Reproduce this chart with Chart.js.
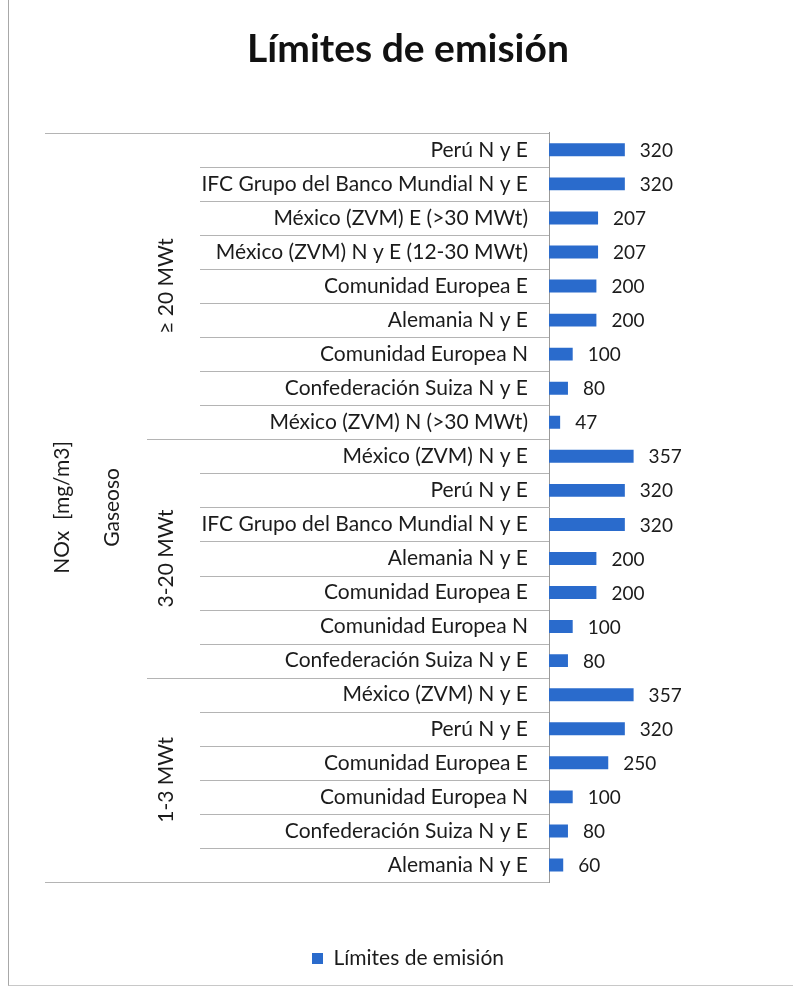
<!DOCTYPE html>
<html>
<head>
<meta charset="utf-8">
<script src="https://cdn.jsdelivr.net/npm/chart.js@4"></script>
<style>
  body { margin: 0; background: #fff; }
  #wrap { position: relative; width: 793px; height: 989px; }
  #frame { position: absolute; left: 8px; top: 0; width: 790px; height: 985px;
    border-left: 1px solid #a8a8a8; border-bottom: 1px solid #c8c8c8; }
  canvas { position: absolute; left: 0; top: 0; }
</style>
</head>
<body>
<div id="wrap">
  <div id="frame"></div>
  <canvas id="myChart" width="793" height="989"></canvas>
</div>
<script>
const labels = [
  "Perú N y E",
  "IFC Grupo del Banco Mundial N y E",
  "México (ZVM) E (>30 MWt)",
  "México (ZVM) N y E (12-30 MWt)",
  "Comunidad Europea E",
  "Alemania N y E",
  "Comunidad Europea N",
  "Confederación Suiza N y E",
  "México (ZVM) N (>30 MWt)",
  "México (ZVM) N y E",
  "Perú N y E",
  "IFC Grupo del Banco Mundial N y E",
  "Alemania N y E",
  "Comunidad Europea E",
  "Comunidad Europea N",
  "Confederación Suiza N y E",
  "México (ZVM) N y E",
  "Perú N y E",
  "Comunidad Europea E",
  "Comunidad Europea N",
  "Confederación Suiza N y E",
  "Alemania N y E"
];
const values = [320, 320, 207, 207, 200, 200, 100, 80, 47,
  357, 320, 320, 200, 200, 100, 80,
  357, 320, 250, 100, 80, 60];
const groups = ["≥ 20 MWt", "3-20 MWt", "1-3 MWt"];
const groupSizes = [9, 7, 6];
const outerLabels = ["Gaseoso", "NOx  [mg/m3]"];
const seriesName = "Límites de emisión";

const FONT = "Lato, 'Open Sans', sans-serif";
const TXT = "#1b1b1b";

// table lines, group labels and value labels
const tablePlugin = {
  id: "tablePlugin",
  afterDatasetsDraw(chart) {
    const ctx = chart.ctx;
    const y = chart.scales.y;
    const area = chart.chartArea;
    const n = labels.length;
    const edge = (i) => {
      if (i <= 0) return area.top;
      if (i >= n) return area.bottom;
      return (y.getPixelForTick(i - 1) + y.getPixelForTick(i)) / 2;
    };
    const groupStarts = [0];
    groupSizes.forEach((s, k) => groupStarts.push(groupStarts[k] + s));

    ctx.save();
    ctx.strokeStyle = "#b4b4b4";
    ctx.lineWidth = 1;
    for (let i = 0; i <= n; i++) {
      let x0 = 200;
      if (i === 0 || i === n) x0 = 45;
      else if (groupStarts.includes(i)) x0 = 147;
      const py = Math.round(edge(i)) + 0.5;
      ctx.beginPath();
      ctx.moveTo(x0, py);
      ctx.lineTo(area.left, py);
      ctx.stroke();
    }

    // rotated labels
    ctx.fillStyle = TXT;
    ctx.font = "21px " + FONT;
    ctx.textAlign = "center";
    ctx.textBaseline = "middle";
    const vtext = (t, x, cy) => {
      ctx.save();
      ctx.translate(x, cy);
      ctx.rotate(-Math.PI / 2);
      ctx.fillText(t, 0, 0);
      ctx.restore();
    };
    groups.forEach((g, k) => {
      vtext(g, 166, (edge(groupStarts[k]) + edge(groupStarts[k + 1])) / 2);
    });
    vtext(outerLabels[0], 112, (area.top + area.bottom) / 2);
    vtext(outerLabels[1], 62, (area.top + area.bottom) / 2);

    // values
    const meta = chart.getDatasetMeta(0);
    ctx.font = "19px " + FONT;
    ctx.textAlign = "left";
    meta.data.forEach((bar, i) => {
      ctx.fillText(String(values[i]), bar.x + 15, bar.y + 1);
    });
    ctx.restore();
  }
};

const ctx = document.getElementById("myChart");
new Chart(ctx, {
  type: "bar",
  data: {
    labels: labels,
    datasets: [{
      label: seriesName,
      data: values,
      backgroundColor: "#2a6bcc",
      barPercentage: 0.38,
      categoryPercentage: 1
    }]
  },
  options: {
    indexAxis: "y",
    responsive: false,
    animation: false,
    layout: { padding: { left: 30, right: 7, top: 0, bottom: 10 } },
    scales: {
      x: {
        min: 0,
        max: 1000,
        display: true,
        ticks: { display: false },
        grid: { display: false },
        border: { display: false },
        afterFit: (s) => { s.height = 56; }
      },
      y: {
        grid: { display: false, drawTicks: false },
        border: { display: true, color: "#9a9a9a" },
        ticks: {
          color: TXT,
          padding: 21,
          font: { family: FONT, size: 21 }
        },
        afterFit: (s) => { s.width = 519; }
      }
    },
    plugins: {
      title: {
        display: true,
        text: "Límites de emisión",
        color: "#111",
        font: { family: FONT, size: 39, weight: "bold" },
        padding: { top: 26, bottom: 60 }
      },
      legend: {
        position: "bottom",
        labels: {
          color: TXT,
          boxWidth: 11,
          boxHeight: 11,
          padding: 10,
          font: { family: FONT, size: 21 }
        }
      },
      tooltip: { enabled: false }
    }
  },
  plugins: [tablePlugin]
});
</script>
</body>
</html>
